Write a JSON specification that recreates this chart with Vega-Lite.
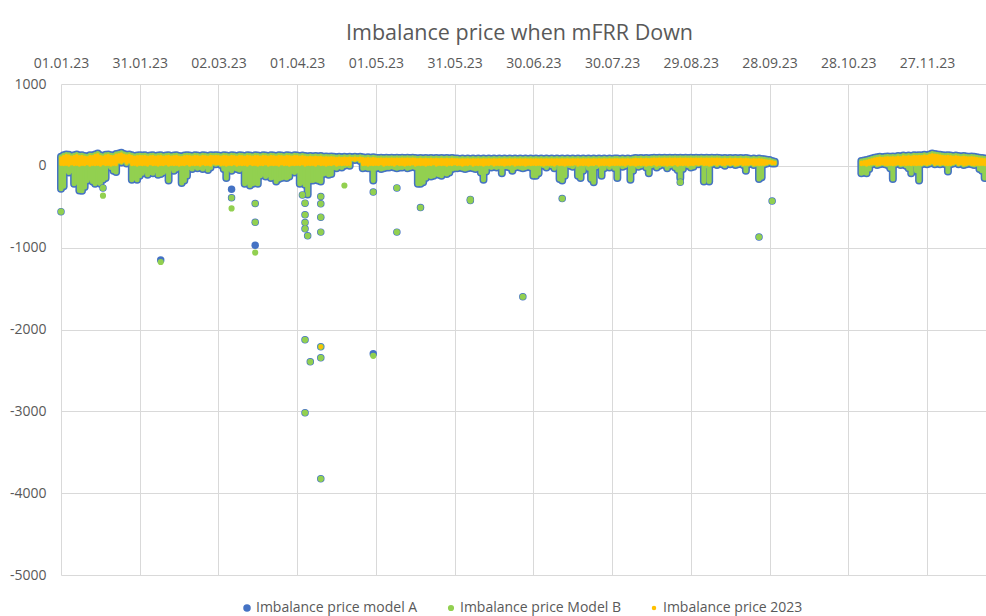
{
"$schema":"https://vega.github.io/schema/vega-lite/v6.json",
"width":925,"height":491,
"autosize":{"type":"none"},
"padding":{"left":61,"top":84,"right":0,"bottom":41},
"background":"#ffffff",
"title":{"text":"Imbalance price when mFRR Down","fontSize":21.5,"fontWeight":"normal","color":"#595959","anchor":"middle","offset":12,"dx":-4},
"config":{"font":"Open Sans","view":{"stroke":null}},
"datasets":{
"band":[
{"d":"2023-01-01","lo":-280,"hi":110,"p0":20,"p1":95},{"d":"2023-01-02","lo":-250,"hi":130,"p0":15,"p1":115},{"d":"2023-01-03","lo":-60,"hi":140,"p0":20,"p1":125},{"d":"2023-01-04","lo":-80,"hi":135,"p0":10,"p1":120},{"d":"2023-01-05","lo":-60,"hi":120,"p0":25,"p1":105},{"d":"2023-01-06","lo":-220,"hi":130,"p0":15,"p1":115},{"d":"2023-01-07","lo":-200,"hi":140,"p0":20,"p1":125},{"d":"2023-01-08","lo":-300,"hi":125,"p0":10,"p1":110},{"d":"2023-01-09","lo":-305,"hi":130,"p0":20,"p1":115},{"d":"2023-01-10","lo":-260,"hi":120,"p0":15,"p1":105},{"d":"2023-01-11","lo":-180,"hi":115,"p0":25,"p1":100},{"d":"2023-01-12","lo":-150,"hi":130,"p0":10,"p1":115},{"d":"2023-01-13","lo":-190,"hi":125,"p0":20,"p1":110},{"d":"2023-01-14","lo":-220,"hi":140,"p0":15,"p1":125},{"d":"2023-01-15","lo":-200,"hi":150,"p0":20,"p1":135},{"d":"2023-01-16","lo":-220,"hi":130,"p0":10,"p1":115},{"d":"2023-01-17","lo":-170,"hi":120,"p0":25,"p1":105},{"d":"2023-01-18","lo":-150,"hi":135,"p0":15,"p1":120},{"d":"2023-01-19","lo":0,"hi":140,"p0":20,"p1":125},{"d":"2023-01-20","lo":-20,"hi":130,"p0":10,"p1":115},{"d":"2023-01-21","lo":-60,"hi":125,"p0":20,"p1":110},{"d":"2023-01-22","lo":-75,"hi":145,"p0":15,"p1":130},{"d":"2023-01-23","lo":50,"hi":150,"p0":50,"p1":135},{"d":"2023-01-24","lo":40,"hi":160,"p0":45,"p1":145},{"d":"2023-01-25","lo":60,"hi":145,"p0":60,"p1":130},{"d":"2023-01-26","lo":30,"hi":135,"p0":35,"p1":120},{"d":"2023-01-27","lo":50,"hi":140,"p0":50,"p1":125},{"d":"2023-01-28","lo":-170,"hi":130,"p0":15,"p1":115},{"d":"2023-01-29","lo":-150,"hi":120,"p0":20,"p1":105},{"d":"2023-01-30","lo":-170,"hi":125,"p0":10,"p1":110},{"d":"2023-01-31","lo":-120,"hi":130,"p0":20,"p1":115},
{"d":"2023-02-01","lo":-90,"hi":125,"p0":15,"p1":110},{"d":"2023-02-02","lo":-60,"hi":130,"p0":20,"p1":115},{"d":"2023-02-03","lo":-110,"hi":120,"p0":10,"p1":105},{"d":"2023-02-04","lo":-80,"hi":125,"p0":25,"p1":110},{"d":"2023-02-05","lo":-90,"hi":130,"p0":15,"p1":115},{"d":"2023-02-06","lo":-60,"hi":120,"p0":20,"p1":105},{"d":"2023-02-07","lo":-110,"hi":125,"p0":10,"p1":110},{"d":"2023-02-08","lo":-100,"hi":130,"p0":20,"p1":115},{"d":"2023-02-09","lo":-80,"hi":120,"p0":15,"p1":105},{"d":"2023-02-10","lo":-60,"hi":125,"p0":25,"p1":110},{"d":"2023-02-11","lo":-180,"hi":130,"p0":10,"p1":115},{"d":"2023-02-12","lo":-30,"hi":120,"p0":20,"p1":105},{"d":"2023-02-13","lo":-60,"hi":125,"p0":15,"p1":110},{"d":"2023-02-14","lo":-40,"hi":130,"p0":20,"p1":115},{"d":"2023-02-15","lo":-20,"hi":120,"p0":10,"p1":105},{"d":"2023-02-16","lo":-210,"hi":115,"p0":20,"p1":100},{"d":"2023-02-17","lo":-180,"hi":125,"p0":15,"p1":110},{"d":"2023-02-18","lo":-120,"hi":130,"p0":25,"p1":115},{"d":"2023-02-19","lo":-20,"hi":125,"p0":10,"p1":110},{"d":"2023-02-20","lo":-40,"hi":120,"p0":20,"p1":105},{"d":"2023-02-21","lo":-10,"hi":130,"p0":15,"p1":115},{"d":"2023-02-22","lo":-30,"hi":125,"p0":20,"p1":110},{"d":"2023-02-23","lo":-20,"hi":120,"p0":10,"p1":105},{"d":"2023-02-24","lo":-40,"hi":130,"p0":25,"p1":115},{"d":"2023-02-25","lo":-10,"hi":125,"p0":15,"p1":110},{"d":"2023-02-26","lo":-50,"hi":120,"p0":20,"p1":105},{"d":"2023-02-27","lo":-20,"hi":130,"p0":10,"p1":115},{"d":"2023-02-28","lo":30,"hi":125,"p0":35,"p1":110},
{"d":"2023-03-01","lo":20,"hi":130,"p0":25,"p1":115},{"d":"2023-03-02","lo":30,"hi":125,"p0":30,"p1":110},{"d":"2023-03-03","lo":10,"hi":120,"p0":15,"p1":105},{"d":"2023-03-04","lo":-40,"hi":130,"p0":20,"p1":115},{"d":"2023-03-05","lo":-150,"hi":125,"p0":10,"p1":110},{"d":"2023-03-06","lo":-40,"hi":120,"p0":20,"p1":105},{"d":"2023-03-07","lo":-60,"hi":130,"p0":15,"p1":115},{"d":"2023-03-08","lo":-30,"hi":125,"p0":25,"p1":110},{"d":"2023-03-09","lo":-40,"hi":120,"p0":10,"p1":105},{"d":"2023-03-10","lo":-50,"hi":130,"p0":20,"p1":115},{"d":"2023-03-11","lo":-30,"hi":125,"p0":15,"p1":110},{"d":"2023-03-12","lo":-220,"hi":120,"p0":20,"p1":105},{"d":"2023-03-13","lo":-200,"hi":130,"p0":10,"p1":115},{"d":"2023-03-14","lo":-240,"hi":125,"p0":25,"p1":110},{"d":"2023-03-15","lo":-220,"hi":120,"p0":15,"p1":105},{"d":"2023-03-16","lo":-210,"hi":130,"p0":20,"p1":115},{"d":"2023-03-17","lo":-220,"hi":125,"p0":10,"p1":110},{"d":"2023-03-18","lo":-120,"hi":120,"p0":20,"p1":105},{"d":"2023-03-19","lo":-100,"hi":130,"p0":15,"p1":115},{"d":"2023-03-20","lo":-130,"hi":125,"p0":25,"p1":110},{"d":"2023-03-21","lo":-110,"hi":120,"p0":10,"p1":105},{"d":"2023-03-22","lo":-150,"hi":130,"p0":20,"p1":115},{"d":"2023-03-23","lo":-140,"hi":125,"p0":15,"p1":110},{"d":"2023-03-24","lo":-190,"hi":120,"p0":20,"p1":105},{"d":"2023-03-25","lo":-160,"hi":130,"p0":10,"p1":115},{"d":"2023-03-26","lo":-150,"hi":125,"p0":25,"p1":110},{"d":"2023-03-27","lo":-140,"hi":120,"p0":15,"p1":105},{"d":"2023-03-28","lo":-150,"hi":130,"p0":20,"p1":115},{"d":"2023-03-29","lo":-130,"hi":125,"p0":10,"p1":110},{"d":"2023-03-30","lo":-70,"hi":120,"p0":20,"p1":105},{"d":"2023-03-31","lo":-80,"hi":130,"p0":15,"p1":115},
{"d":"2023-04-01","lo":-60,"hi":125,"p0":20,"p1":110},{"d":"2023-04-02","lo":-220,"hi":120,"p0":15,"p1":105},{"d":"2023-04-03","lo":-200,"hi":125,"p0":25,"p1":110},{"d":"2023-04-04","lo":-230,"hi":120,"p0":10,"p1":105},{"d":"2023-04-05","lo":-350,"hi":115,"p0":20,"p1":100},{"d":"2023-04-06","lo":-180,"hi":120,"p0":15,"p1":105},{"d":"2023-04-07","lo":-180,"hi":115,"p0":20,"p1":100},{"d":"2023-04-08","lo":-170,"hi":120,"p0":10,"p1":105},{"d":"2023-04-09","lo":-180,"hi":115,"p0":25,"p1":100},{"d":"2023-04-10","lo":-190,"hi":120,"p0":15,"p1":105},{"d":"2023-04-11","lo":-100,"hi":110,"p0":20,"p1":95},{"d":"2023-04-12","lo":-90,"hi":115,"p0":10,"p1":100},{"d":"2023-04-13","lo":-110,"hi":110,"p0":20,"p1":95},{"d":"2023-04-14","lo":-100,"hi":115,"p0":15,"p1":100},{"d":"2023-04-15","lo":-20,"hi":110,"p0":25,"p1":95},{"d":"2023-04-16","lo":-30,"hi":105,"p0":10,"p1":90},{"d":"2023-04-17","lo":-10,"hi":110,"p0":20,"p1":95},{"d":"2023-04-18","lo":-20,"hi":105,"p0":15,"p1":90},{"d":"2023-04-19","lo":0,"hi":110,"p0":20,"p1":95},{"d":"2023-04-20","lo":10,"hi":105,"p0":15,"p1":90},{"d":"2023-04-21","lo":0,"hi":110,"p0":20,"p1":95},{"d":"2023-04-22","lo":80,"hi":105,"p0":80,"p1":90},{"d":"2023-04-23","lo":70,"hi":110,"p0":70,"p1":95},{"d":"2023-04-24","lo":80,"hi":105,"p0":80,"p1":90},{"d":"2023-04-25","lo":60,"hi":110,"p0":60,"p1":95},{"d":"2023-04-26","lo":-30,"hi":105,"p0":15,"p1":90},{"d":"2023-04-27","lo":-20,"hi":100,"p0":20,"p1":85},{"d":"2023-04-28","lo":-30,"hi":105,"p0":10,"p1":90},{"d":"2023-04-29","lo":-30,"hi":100,"p0":20,"p1":85},{"d":"2023-04-30","lo":-180,"hi":105,"p0":15,"p1":90},
{"d":"2023-05-01","lo":-30,"hi":100,"p0":20,"p1":85},{"d":"2023-05-02","lo":-20,"hi":95,"p0":15,"p1":80},{"d":"2023-05-03","lo":-40,"hi":100,"p0":25,"p1":85},{"d":"2023-05-04","lo":-30,"hi":95,"p0":10,"p1":80},{"d":"2023-05-05","lo":-20,"hi":100,"p0":20,"p1":85},{"d":"2023-05-06","lo":-20,"hi":95,"p0":15,"p1":80},{"d":"2023-05-07","lo":-10,"hi":100,"p0":20,"p1":85},{"d":"2023-05-08","lo":-20,"hi":95,"p0":10,"p1":80},{"d":"2023-05-09","lo":-30,"hi":100,"p0":25,"p1":85},{"d":"2023-05-10","lo":-20,"hi":95,"p0":15,"p1":80},{"d":"2023-05-11","lo":-20,"hi":100,"p0":20,"p1":85},{"d":"2023-05-12","lo":-10,"hi":95,"p0":10,"p1":80},{"d":"2023-05-13","lo":-30,"hi":100,"p0":20,"p1":85},{"d":"2023-05-14","lo":-20,"hi":95,"p0":15,"p1":80},{"d":"2023-05-15","lo":-10,"hi":100,"p0":25,"p1":85},{"d":"2023-05-16","lo":-20,"hi":95,"p0":10,"p1":80},{"d":"2023-05-17","lo":-220,"hi":90,"p0":20,"p1":75},{"d":"2023-05-18","lo":-220,"hi":95,"p0":15,"p1":80},{"d":"2023-05-19","lo":-200,"hi":90,"p0":20,"p1":75},{"d":"2023-05-20","lo":-150,"hi":95,"p0":10,"p1":80},{"d":"2023-05-21","lo":-120,"hi":90,"p0":20,"p1":75},{"d":"2023-05-22","lo":-130,"hi":95,"p0":15,"p1":80},{"d":"2023-05-23","lo":-120,"hi":90,"p0":25,"p1":75},{"d":"2023-05-24","lo":-100,"hi":95,"p0":10,"p1":80},{"d":"2023-05-25","lo":-110,"hi":90,"p0":20,"p1":75},{"d":"2023-05-26","lo":-120,"hi":95,"p0":15,"p1":80},{"d":"2023-05-27","lo":-90,"hi":90,"p0":20,"p1":75},{"d":"2023-05-28","lo":-100,"hi":95,"p0":10,"p1":80},{"d":"2023-05-29","lo":-80,"hi":90,"p0":20,"p1":75},{"d":"2023-05-30","lo":-40,"hi":95,"p0":15,"p1":80},{"d":"2023-05-31","lo":-30,"hi":90,"p0":25,"p1":75},
{"d":"2023-06-01","lo":-30,"hi":90,"p0":15,"p1":75},{"d":"2023-06-02","lo":-20,"hi":85,"p0":20,"p1":70},{"d":"2023-06-03","lo":-30,"hi":90,"p0":10,"p1":75},{"d":"2023-06-04","lo":-40,"hi":85,"p0":20,"p1":70},{"d":"2023-06-05","lo":-30,"hi":90,"p0":15,"p1":75},{"d":"2023-06-06","lo":-20,"hi":85,"p0":25,"p1":70},{"d":"2023-06-07","lo":-30,"hi":90,"p0":10,"p1":75},{"d":"2023-06-08","lo":-40,"hi":85,"p0":20,"p1":70},{"d":"2023-06-09","lo":-30,"hi":90,"p0":15,"p1":75},{"d":"2023-06-10","lo":-80,"hi":85,"p0":20,"p1":70},{"d":"2023-06-11","lo":-170,"hi":90,"p0":10,"p1":75},{"d":"2023-06-12","lo":-70,"hi":85,"p0":20,"p1":70},{"d":"2023-06-13","lo":-10,"hi":90,"p0":15,"p1":75},{"d":"2023-06-14","lo":-20,"hi":85,"p0":25,"p1":70},{"d":"2023-06-15","lo":-10,"hi":90,"p0":10,"p1":75},{"d":"2023-06-16","lo":-20,"hi":85,"p0":20,"p1":70},{"d":"2023-06-17","lo":-10,"hi":90,"p0":15,"p1":75},{"d":"2023-06-18","lo":-90,"hi":85,"p0":20,"p1":70},{"d":"2023-06-19","lo":-10,"hi":90,"p0":10,"p1":75},{"d":"2023-06-20","lo":-10,"hi":85,"p0":20,"p1":70},{"d":"2023-06-21","lo":-20,"hi":90,"p0":15,"p1":75},{"d":"2023-06-22","lo":-60,"hi":85,"p0":25,"p1":70},{"d":"2023-06-23","lo":-20,"hi":90,"p0":10,"p1":75},{"d":"2023-06-24","lo":-10,"hi":85,"p0":20,"p1":70},{"d":"2023-06-25","lo":-20,"hi":90,"p0":15,"p1":75},{"d":"2023-06-26","lo":-30,"hi":85,"p0":20,"p1":70},{"d":"2023-06-27","lo":-20,"hi":90,"p0":10,"p1":75},{"d":"2023-06-28","lo":-10,"hi":85,"p0":20,"p1":70},{"d":"2023-06-29","lo":-20,"hi":90,"p0":15,"p1":75},{"d":"2023-06-30","lo":-120,"hi":85,"p0":20,"p1":70},
{"d":"2023-07-01","lo":-120,"hi":90,"p0":15,"p1":75},{"d":"2023-07-02","lo":-90,"hi":85,"p0":20,"p1":70},{"d":"2023-07-03","lo":10,"hi":90,"p0":15,"p1":75},{"d":"2023-07-04","lo":0,"hi":85,"p0":10,"p1":70},{"d":"2023-07-05","lo":-20,"hi":90,"p0":20,"p1":75},{"d":"2023-07-06","lo":10,"hi":85,"p0":15,"p1":70},{"d":"2023-07-07","lo":0,"hi":90,"p0":20,"p1":75},{"d":"2023-07-08","lo":-30,"hi":85,"p0":10,"p1":70},{"d":"2023-07-09","lo":20,"hi":90,"p0":25,"p1":75},{"d":"2023-07-10","lo":-160,"hi":85,"p0":15,"p1":70},{"d":"2023-07-11","lo":-180,"hi":90,"p0":20,"p1":75},{"d":"2023-07-12","lo":-120,"hi":85,"p0":10,"p1":70},{"d":"2023-07-13","lo":10,"hi":90,"p0":20,"p1":75},{"d":"2023-07-14","lo":0,"hi":85,"p0":15,"p1":70},{"d":"2023-07-15","lo":-10,"hi":90,"p0":20,"p1":75},{"d":"2023-07-16","lo":20,"hi":85,"p0":25,"p1":70},{"d":"2023-07-17","lo":-120,"hi":90,"p0":10,"p1":75},{"d":"2023-07-18","lo":-150,"hi":85,"p0":20,"p1":70},{"d":"2023-07-19","lo":-60,"hi":90,"p0":15,"p1":75},{"d":"2023-07-20","lo":10,"hi":85,"p0":20,"p1":70},{"d":"2023-07-21","lo":-30,"hi":90,"p0":10,"p1":75},{"d":"2023-07-22","lo":-160,"hi":85,"p0":20,"p1":70},{"d":"2023-07-23","lo":-200,"hi":90,"p0":15,"p1":75},{"d":"2023-07-24","lo":-10,"hi":85,"p0":25,"p1":70},{"d":"2023-07-25","lo":0,"hi":90,"p0":10,"p1":75},{"d":"2023-07-26","lo":-120,"hi":85,"p0":20,"p1":70},{"d":"2023-07-27","lo":-30,"hi":90,"p0":15,"p1":75},{"d":"2023-07-28","lo":10,"hi":85,"p0":20,"p1":70},{"d":"2023-07-29","lo":-20,"hi":90,"p0":10,"p1":75},{"d":"2023-07-30","lo":0,"hi":85,"p0":20,"p1":70},{"d":"2023-07-31","lo":-30,"hi":90,"p0":15,"p1":75},
{"d":"2023-08-01","lo":-150,"hi":90,"p0":20,"p1":75},{"d":"2023-08-02","lo":10,"hi":85,"p0":15,"p1":70},{"d":"2023-08-03","lo":-10,"hi":90,"p0":20,"p1":75},{"d":"2023-08-04","lo":0,"hi":85,"p0":10,"p1":70},{"d":"2023-08-05","lo":20,"hi":90,"p0":25,"p1":75},{"d":"2023-08-06","lo":-170,"hi":85,"p0":15,"p1":70},{"d":"2023-08-07","lo":-60,"hi":90,"p0":20,"p1":75},{"d":"2023-08-08","lo":10,"hi":95,"p0":10,"p1":80},{"d":"2023-08-09","lo":-10,"hi":90,"p0":20,"p1":75},{"d":"2023-08-10","lo":0,"hi":95,"p0":15,"p1":80},{"d":"2023-08-11","lo":20,"hi":90,"p0":20,"p1":75},{"d":"2023-08-12","lo":-20,"hi":95,"p0":10,"p1":80},{"d":"2023-08-13","lo":-90,"hi":90,"p0":20,"p1":75},{"d":"2023-08-14","lo":0,"hi":95,"p0":15,"p1":80},{"d":"2023-08-15","lo":10,"hi":100,"p0":25,"p1":85},{"d":"2023-08-16","lo":-20,"hi":95,"p0":10,"p1":80},{"d":"2023-08-17","lo":0,"hi":100,"p0":20,"p1":85},{"d":"2023-08-18","lo":20,"hi":95,"p0":15,"p1":80},{"d":"2023-08-19","lo":10,"hi":100,"p0":20,"p1":85},{"d":"2023-08-20","lo":-30,"hi":95,"p0":10,"p1":80},{"d":"2023-08-21","lo":0,"hi":100,"p0":20,"p1":85},{"d":"2023-08-22","lo":10,"hi":95,"p0":15,"p1":80},{"d":"2023-08-23","lo":-20,"hi":100,"p0":25,"p1":85},{"d":"2023-08-24","lo":-50,"hi":95,"p0":10,"p1":80},{"d":"2023-08-25","lo":-150,"hi":100,"p0":20,"p1":85},{"d":"2023-08-26","lo":-40,"hi":95,"p0":15,"p1":80},{"d":"2023-08-27","lo":10,"hi":100,"p0":20,"p1":85},{"d":"2023-08-28","lo":0,"hi":95,"p0":10,"p1":80},{"d":"2023-08-29","lo":-20,"hi":100,"p0":20,"p1":85},{"d":"2023-08-30","lo":-10,"hi":95,"p0":15,"p1":80},{"d":"2023-08-31","lo":20,"hi":100,"p0":25,"p1":85},
{"d":"2023-09-01","lo":20,"hi":95,"p0":20,"p1":80},{"d":"2023-09-02","lo":30,"hi":100,"p0":30,"p1":85},{"d":"2023-09-03","lo":-190,"hi":95,"p0":15,"p1":80},{"d":"2023-09-04","lo":0,"hi":100,"p0":20,"p1":85},{"d":"2023-09-05","lo":-190,"hi":95,"p0":10,"p1":80},{"d":"2023-09-06","lo":20,"hi":100,"p0":20,"p1":85},{"d":"2023-09-07","lo":30,"hi":95,"p0":30,"p1":80},{"d":"2023-09-08","lo":10,"hi":100,"p0":15,"p1":85},{"d":"2023-09-09","lo":30,"hi":95,"p0":30,"p1":80},{"d":"2023-09-10","lo":20,"hi":90,"p0":20,"p1":75},{"d":"2023-09-11","lo":0,"hi":95,"p0":15,"p1":80},{"d":"2023-09-12","lo":30,"hi":90,"p0":30,"p1":75},{"d":"2023-09-13","lo":20,"hi":95,"p0":20,"p1":80},{"d":"2023-09-14","lo":30,"hi":90,"p0":30,"p1":75},{"d":"2023-09-15","lo":10,"hi":95,"p0":15,"p1":80},{"d":"2023-09-16","lo":20,"hi":90,"p0":20,"p1":75},{"d":"2023-09-17","lo":30,"hi":95,"p0":30,"p1":80},{"d":"2023-09-18","lo":10,"hi":90,"p0":15,"p1":75},{"d":"2023-09-19","lo":-60,"hi":95,"p0":20,"p1":80},{"d":"2023-09-20","lo":20,"hi":90,"p0":20,"p1":75},{"d":"2023-09-21","lo":30,"hi":85,"p0":30,"p1":70},{"d":"2023-09-22","lo":10,"hi":90,"p0":15,"p1":75},{"d":"2023-09-23","lo":20,"hi":85,"p0":20,"p1":70},{"d":"2023-09-24","lo":-160,"hi":90,"p0":15,"p1":75},{"d":"2023-09-25","lo":-140,"hi":85,"p0":20,"p1":70},{"d":"2023-09-26","lo":20,"hi":80,"p0":20,"p1":65},{"d":"2023-09-27","lo":30,"hi":75,"p0":30,"p1":60},{"d":"2023-09-28","lo":40,"hi":70,"p0":40,"p1":55},{"d":"2023-09-29","lo":30,"hi":60,"p0":30,"p1":50},{"d":"2023-09-30","lo":30,"hi":50,"p0":30,"p1":40},
{"d":"2023-11-02","lo":-90,"hi":60,"p0":15,"p1":45},{"d":"2023-11-03","lo":-80,"hi":65,"p0":20,"p1":50},{"d":"2023-11-04","lo":-90,"hi":70,"p0":10,"p1":55},{"d":"2023-11-05","lo":-40,"hi":80,"p0":20,"p1":65},{"d":"2023-11-06","lo":20,"hi":90,"p0":25,"p1":75},{"d":"2023-11-07","lo":30,"hi":100,"p0":30,"p1":85},{"d":"2023-11-08","lo":10,"hi":105,"p0":15,"p1":90},{"d":"2023-11-09","lo":20,"hi":110,"p0":20,"p1":95},{"d":"2023-11-10","lo":30,"hi":105,"p0":30,"p1":90},{"d":"2023-11-11","lo":20,"hi":110,"p0":20,"p1":95},{"d":"2023-11-12","lo":10,"hi":115,"p0":15,"p1":100},{"d":"2023-11-13","lo":-30,"hi":110,"p0":20,"p1":95},{"d":"2023-11-14","lo":-160,"hi":115,"p0":15,"p1":100},{"d":"2023-11-15","lo":20,"hi":110,"p0":20,"p1":95},{"d":"2023-11-16","lo":30,"hi":120,"p0":30,"p1":105},{"d":"2023-11-17","lo":10,"hi":115,"p0":15,"p1":100},{"d":"2023-11-18","lo":20,"hi":125,"p0":20,"p1":110},{"d":"2023-11-19","lo":0,"hi":120,"p0":15,"p1":105},{"d":"2023-11-20","lo":-30,"hi":125,"p0":20,"p1":110},{"d":"2023-11-21","lo":-90,"hi":120,"p0":15,"p1":105},{"d":"2023-11-22","lo":20,"hi":130,"p0":20,"p1":115},{"d":"2023-11-23","lo":-60,"hi":125,"p0":15,"p1":110},{"d":"2023-11-24","lo":-180,"hi":130,"p0":20,"p1":115},{"d":"2023-11-25","lo":20,"hi":125,"p0":20,"p1":110},{"d":"2023-11-26","lo":30,"hi":135,"p0":30,"p1":120},{"d":"2023-11-27","lo":20,"hi":130,"p0":20,"p1":115},{"d":"2023-11-28","lo":30,"hi":140,"p0":30,"p1":125},{"d":"2023-11-29","lo":40,"hi":150,"p0":40,"p1":135},{"d":"2023-11-30","lo":20,"hi":145,"p0":20,"p1":130},
{"d":"2023-12-01","lo":30,"hi":140,"p0":30,"p1":125},{"d":"2023-12-02","lo":20,"hi":135,"p0":20,"p1":120},{"d":"2023-12-03","lo":30,"hi":130,"p0":30,"p1":115},{"d":"2023-12-04","lo":20,"hi":125,"p0":20,"p1":110},{"d":"2023-12-05","lo":-70,"hi":130,"p0":15,"p1":115},{"d":"2023-12-06","lo":20,"hi":125,"p0":20,"p1":110},{"d":"2023-12-07","lo":30,"hi":120,"p0":30,"p1":105},{"d":"2023-12-08","lo":40,"hi":125,"p0":40,"p1":110},{"d":"2023-12-09","lo":20,"hi":120,"p0":20,"p1":105},{"d":"2023-12-10","lo":30,"hi":115,"p0":30,"p1":100},{"d":"2023-12-11","lo":10,"hi":120,"p0":15,"p1":105},{"d":"2023-12-12","lo":20,"hi":115,"p0":20,"p1":100},{"d":"2023-12-13","lo":30,"hi":110,"p0":30,"p1":95},{"d":"2023-12-14","lo":20,"hi":115,"p0":20,"p1":100},{"d":"2023-12-15","lo":10,"hi":110,"p0":15,"p1":95},{"d":"2023-12-16","lo":20,"hi":105,"p0":20,"p1":90},{"d":"2023-12-17","lo":-40,"hi":100,"p0":15,"p1":85},{"d":"2023-12-18","lo":-60,"hi":95,"p0":20,"p1":80},{"d":"2023-12-19","lo":-150,"hi":90,"p0":15,"p1":75}
],
"pts":[
{"d":"2023-01-01","s":"Imbalance price model A","v":-560},{"d":"2023-01-17","s":"Imbalance price model A","v":-270},{"d":"2023-02-08","s":"Imbalance price model A","v":-1150},{"d":"2023-03-07","s":"Imbalance price model A","v":-285},{"d":"2023-03-07","s":"Imbalance price model A","v":-390},{"d":"2023-03-16","s":"Imbalance price model A","v":-460},{"d":"2023-03-16","s":"Imbalance price model A","v":-690},{"d":"2023-03-16","s":"Imbalance price model A","v":-970},{"d":"2023-04-03","s":"Imbalance price model A","v":-355},{"d":"2023-04-04","s":"Imbalance price model A","v":-456},{"d":"2023-04-04","s":"Imbalance price model A","v":-599},{"d":"2023-04-04","s":"Imbalance price model A","v":-693},{"d":"2023-04-04","s":"Imbalance price model A","v":-770},{"d":"2023-04-04","s":"Imbalance price model A","v":-2126},{"d":"2023-04-04","s":"Imbalance price model A","v":-3018},{"d":"2023-04-05","s":"Imbalance price model A","v":-855},{"d":"2023-04-06","s":"Imbalance price model A","v":-2395},{"d":"2023-04-10","s":"Imbalance price model A","v":-375},{"d":"2023-04-10","s":"Imbalance price model A","v":-464},{"d":"2023-04-10","s":"Imbalance price model A","v":-627},{"d":"2023-04-10","s":"Imbalance price model A","v":-810},{"d":"2023-04-10","s":"Imbalance price model A","v":-2212},{"d":"2023-04-10","s":"Imbalance price model A","v":-2346},{"d":"2023-04-10","s":"Imbalance price model A","v":-3825},{"d":"2023-04-30","s":"Imbalance price model A","v":-320},{"d":"2023-04-30","s":"Imbalance price model A","v":-2297},{"d":"2023-05-09","s":"Imbalance price model A","v":-270},{"d":"2023-05-09","s":"Imbalance price model A","v":-810},{"d":"2023-05-18","s":"Imbalance price model A","v":-510},{"d":"2023-06-06","s":"Imbalance price model A","v":-410},{"d":"2023-06-06","s":"Imbalance price model A","v":-425},{"d":"2023-06-26","s":"Imbalance price model A","v":-1600},{"d":"2023-07-11","s":"Imbalance price model A","v":-400},{"d":"2023-08-25","s":"Imbalance price model A","v":-200},{"d":"2023-09-24","s":"Imbalance price model A","v":-870},{"d":"2023-09-29","s":"Imbalance price model A","v":-430},
{"d":"2023-01-01","s":"Imbalance price Model B","v":-560},{"d":"2023-01-17","s":"Imbalance price Model B","v":-270},{"d":"2023-01-17","s":"Imbalance price Model B","v":-365},{"d":"2023-02-08","s":"Imbalance price Model B","v":-1175},{"d":"2023-03-07","s":"Imbalance price Model B","v":-390},{"d":"2023-03-07","s":"Imbalance price Model B","v":-520},{"d":"2023-03-16","s":"Imbalance price Model B","v":-460},{"d":"2023-03-16","s":"Imbalance price Model B","v":-690},{"d":"2023-03-16","s":"Imbalance price Model B","v":-1060},{"d":"2023-04-03","s":"Imbalance price Model B","v":-355},{"d":"2023-04-04","s":"Imbalance price Model B","v":-456},{"d":"2023-04-04","s":"Imbalance price Model B","v":-599},{"d":"2023-04-04","s":"Imbalance price Model B","v":-693},{"d":"2023-04-04","s":"Imbalance price Model B","v":-770},{"d":"2023-04-04","s":"Imbalance price Model B","v":-2126},{"d":"2023-04-04","s":"Imbalance price Model B","v":-3018},{"d":"2023-04-05","s":"Imbalance price Model B","v":-855},{"d":"2023-04-06","s":"Imbalance price Model B","v":-2395},{"d":"2023-04-10","s":"Imbalance price Model B","v":-375},{"d":"2023-04-10","s":"Imbalance price Model B","v":-464},{"d":"2023-04-10","s":"Imbalance price Model B","v":-627},{"d":"2023-04-10","s":"Imbalance price Model B","v":-810},{"d":"2023-04-10","s":"Imbalance price Model B","v":-2212},{"d":"2023-04-10","s":"Imbalance price Model B","v":-2346},{"d":"2023-04-10","s":"Imbalance price Model B","v":-3825},{"d":"2023-04-19","s":"Imbalance price Model B","v":-240},{"d":"2023-04-30","s":"Imbalance price Model B","v":-320},{"d":"2023-04-30","s":"Imbalance price Model B","v":-2322},{"d":"2023-05-09","s":"Imbalance price Model B","v":-270},{"d":"2023-05-09","s":"Imbalance price Model B","v":-810},{"d":"2023-05-18","s":"Imbalance price Model B","v":-510},{"d":"2023-06-06","s":"Imbalance price Model B","v":-410},{"d":"2023-06-06","s":"Imbalance price Model B","v":-425},{"d":"2023-06-26","s":"Imbalance price Model B","v":-1600},{"d":"2023-07-11","s":"Imbalance price Model B","v":-400},{"d":"2023-08-25","s":"Imbalance price Model B","v":-200},{"d":"2023-09-24","s":"Imbalance price Model B","v":-870},{"d":"2023-09-29","s":"Imbalance price Model B","v":-430},
{"d":"2023-04-10","s":"Imbalance price 2023","v":-2212}
]},
"encoding":{
"x":{"field":"d","type":"temporal","title":null,
"scale":{"type":"utc","nice":false,"domain":[{"year":2023,"month":1,"date":1,"utc":true},{"year":2023,"month":12,"date":19,"hours":12,"utc":true}]},
"axis":{"orient":"top","format":"%d.%m.%y","values":[{"year":2023,"month":1,"date":1,"utc":true},{"year":2023,"month":1,"date":31,"utc":true},{"year":2023,"month":3,"date":2,"utc":true},{"year":2023,"month":4,"date":1,"utc":true},{"year":2023,"month":5,"date":1,"utc":true},{"year":2023,"month":5,"date":31,"utc":true},{"year":2023,"month":6,"date":30,"utc":true},{"year":2023,"month":7,"date":30,"utc":true},{"year":2023,"month":8,"date":29,"utc":true},{"year":2023,"month":9,"date":28,"utc":true},{"year":2023,"month":10,"date":28,"utc":true},{"year":2023,"month":11,"date":27,"utc":true}],
"labelFontSize":14,"labelColor":"#595959","labelFlush":false,"labelOverlap":false,"ticks":false,"domain":false,"grid":true,"gridColor":"#D9D9D9","gridWidth":1,"labelPadding":14}}
},
"layer":[
{"data":{"name":"band"},"mark":{"type":"rule","strokeWidth":8,"strokeCap":"round","color":"#4472C4"},
"encoding":{"y":{"field":"lo","type":"quantitative","title":null,"scale":{"domain":[-5000,1000],"nice":false,"zero":false},
"axis":{"values":[-5000,-4000,-3000,-2000,-1000,0,1000],"labelExpr":"'' + datum.value","labelFontSize":14,"labelColor":"#595959","ticks":false,"domain":false,"grid":true,"gridColor":"#D9D9D9","gridWidth":1,"labelPadding":15,"title":null}},
"y2":{"field":"hi"}}},
{"data":{"name":"band"},"mark":{"type":"rule","strokeWidth":5,"strokeCap":"round","color":"#92D050"},
"encoding":{"y":{"field":"lo","type":"quantitative","title":null},"y2":{"field":"hi"}}},
{"data":{"name":"band"},"mark":{"type":"rule","strokeWidth":3.5,"strokeCap":"round","color":"#FFC000"},
"encoding":{"y":{"field":"p0","type":"quantitative","title":null},"y2":{"field":"p1"}}},
{"data":{"name":"pts"},"mark":{"type":"circle","opacity":1},
"encoding":{"y":{"field":"v","type":"quantitative","title":null},
"color":{"field":"s","type":"nominal","scale":{"domain":["Imbalance price model A","Imbalance price Model B","Imbalance price 2023"],"range":["#4472C4","#92D050","#FFC000"]},
"legend":{"orient":"none","legendX":179,"legendY":517,"direction":"horizontal","title":null,"labelFontSize":14,"labelColor":"#595959","labelLimit":400,"columnPadding":26,"labelOffset":2,"symbolType":"circle","symbolOpacity":1}},
"size":{"field":"s","type":"nominal","scale":{"domain":["Imbalance price model A","Imbalance price Model B","Imbalance price 2023"],"range":[56,20,9]},
"legend":{"orient":"none","legendX":179,"legendY":517,"direction":"horizontal","title":null,"labelFontSize":14,"labelColor":"#595959","labelLimit":400,"columnPadding":26,"labelOffset":2,"symbolType":"circle","symbolOpacity":1}}}}
]
}
